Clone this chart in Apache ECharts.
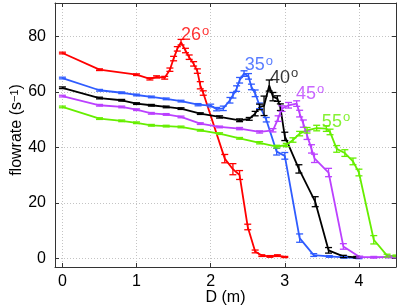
<!DOCTYPE html>
<html>
<head>
<meta charset="utf-8">
<script src="https://cdn.jsdelivr.net/npm/echarts@6/dist/echarts.min.js"></script>
<style>html,body{margin:0;padding:0;background:#fff;}#c{width:399px;height:308px;}</style>
</head>
<body>
<div id="c"></div>
<script>
// ---- data ----
const tickX = [0, 1, 2, 3, 4];
const tickY = [0, 20, 40, 60, 80];

const d26 = [0, 0.5, 1.0, 1.18, 1.27, 1.38, 1.45, 1.5, 1.55, 1.6, 1.66, 1.71, 1.77, 1.82, 1.86, 1.9, 2.19, 2.3, 2.39, 2.5, 2.6, 2.69, 2.8, 2.9, 3.0];
const f26 = [74, 68, 66.2, 64.7, 65.4, 65.1, 68, 72, 75.5, 77.9, 74.9, 72.5, 70.1, 67.5, 62.4, 59.6, 36, 32.2, 30.1, 11.4, 2.6, 1.1, 0.8, 1.1, 0.6];
const e26 = [0.3, 0.3, 0.3, 0.4, 0.4, 0.5, 0.6, 0.8, 0.8, 1, 0.8, 0.8, 0.8, 0.8, 1.3, 0.8, 1.5, 2, 1.6, 1, 0.5, 0.3, 0.3, 0.3, 0.2];

const d35 = [0, 0.5, 0.8, 1.0, 1.2, 1.4, 1.6, 1.83, 2.0, 2.08, 2.17, 2.26, 2.3, 2.35, 2.39, 2.45, 2.51, 2.55, 2.6, 2.66, 2.75, 2.89, 3.0, 3.2, 3.39, 3.6, 3.8, 4.0];
const f35 = [65, 60.6, 59.7, 58.9, 58.2, 57.5, 56.7, 55.4, 55.1, 53.8, 54.1, 57, 58.8, 61.2, 64.2, 66.6, 65.6, 61.8, 59.5, 55, 50, 38.5, 37, 7.4, 1.3, 0.8, 0.5, 0.2];
const e35 = [0.3, 0.3, 0.3, 0.3, 0.3, 0.3, 0.3, 0.4, 0.5, 0.6, 0.8, 1, 1, 1, 1, 1, 1, 1, 1.2, 1, 0.8, 1.2, 1.2, 1.5, 0.5, 0.3, 0.3, 0.2];

const d40 = [0, 0.5, 0.8, 1.0, 1.2, 1.4, 1.6, 1.86, 2.12, 2.39, 2.52, 2.6, 2.66, 2.72, 2.79, 2.84, 2.9, 2.94, 3.0, 3.19, 3.41, 3.59, 3.79, 3.97];
const f40 = [61.5, 57.8, 57, 55.8, 55.2, 54.6, 54, 52.2, 51, 49.8, 50.3, 52.2, 54.6, 55, 62.3, 58.3, 57.6, 54.5, 44, 32.3, 20.5, 3, 0.8, 0.5];
const e40 = [0.3, 0.3, 0.3, 0.3, 0.3, 0.3, 0.3, 0.3, 0.4, 0.5, 0.5, 0.8, 1, 3.5, 2, 1.5, 1, 1.2, 1.5, 1.5, 1.8, 1, 0.4, 0.3];

const d45 = [0, 0.5, 0.8, 1.0, 1.2, 1.4, 1.6, 1.86, 2.12, 2.39, 2.66, 2.84, 2.91, 2.96, 3.05, 3.16, 3.2, 3.25, 3.3, 3.36, 3.4, 3.59, 3.79, 4.01, 4.2, 4.4, 4.5];
const f45 = [58.5, 55.2, 54.6, 53.6, 52.3, 51.9, 51, 48.6, 47.4, 46.8, 45.6, 46.2, 50.4, 54, 55.2, 55.8, 52.2, 48.6, 44.4, 39.5, 36.1, 31, 4.4, 0.6, 0.5, 0.6, 0.6];
const e45 = [0.3, 0.3, 0.3, 0.3, 0.3, 0.3, 0.3, 0.3, 0.3, 0.4, 0.4, 0.6, 1, 1, 1, 1, 1.2, 1.3, 1.5, 1.5, 1.5, 1.5, 1, 0.3, 0.3, 0.3, 0.3];

const d55 = [0, 0.5, 0.8, 1.0, 1.2, 1.4, 1.6, 1.86, 2.12, 2.39, 2.66, 2.89, 3.02, 3.11, 3.2, 3.3, 3.43, 3.56, 3.61, 3.7, 3.81, 3.92, 4.0, 4.2, 4.38, 4.5];
const f55 = [54.6, 50.4, 49.6, 48.9, 48, 47.7, 47.4, 46.2, 45, 43.3, 41.7, 40.3, 40.9, 42.7, 45, 46.2, 47, 46.8, 45.6, 39.5, 38, 35, 31, 6.8, 1.1, 1];
const e55 = [0.3, 0.3, 0.3, 0.3, 0.3, 0.3, 0.3, 0.3, 0.3, 0.3, 0.4, 0.5, 0.6, 0.8, 0.8, 1, 1, 1, 1, 1.2, 1.2, 1.2, 1.2, 1.5, 0.5, 0.3];

const angleNames = ['26', '35', '40', '45', '55'];
const labelD = [1.6, 2.46, 2.8, 3.15, 3.5];
const labelF = [80.3, 69.5, 65, 59.3, 49.2];

const colors = ['#ff0000', '#2f5cff', '#000000', '#bb40ff', '#66ee00'];
const groups = [[d26, f26, e26], [d35, f35, e35], [d40, f40, e40], [d45, f45, e45], [d55, f55, e55]];

// ---- chart ----
const chart = echarts.init(document.getElementById('c'), null, {renderer: 'canvas'});
const font = 'Liberation Sans, Arial, Helvetica, sans-serif';
const axisColor = '#333';

function errRenderer(color) {
  return function (params, api) {
    const x = api.value(0), y = api.value(1), e = api.value(2);
    const hi = api.coord([x, y + e]);
    const lo = api.coord([x, y - e]);
    const w = 3.5;
    const style = {stroke: color, lineWidth: 1.3};
    return {
      type: 'group',
      children: [
        {type: 'line', shape: {x1: hi[0], y1: hi[1], x2: lo[0], y2: lo[1]}, style: style},
        {type: 'line', shape: {x1: hi[0] - w, y1: hi[1], x2: hi[0] + w, y2: hi[1]}, style: style},
        {type: 'line', shape: {x1: lo[0] - w, y1: lo[1], x2: lo[0] + w, y2: lo[1]}, style: style}
      ]
    };
  };
}

const series = [];
groups.forEach(function (g, i) {
  const pts = g[0].map(function (d, k) { return [d, g[1][k]]; });
  const errs = g[0].map(function (d, k) { return [d, g[1][k], g[2][k]]; });
  series.push({
    type: 'line', data: pts, symbol: 'none', smooth: false,
    lineStyle: {color: colors[i], width: 1.8}, z: 3, clip: true, animation: false
  });
  series.push({
    type: 'custom', data: errs, renderItem: errRenderer(colors[i]), z: 4, clip: true, animation: false,
    encode: {x: 0, y: 1}
  });
});

series.push({
  type: 'scatter', symbolSize: 0, z: 6, animation: false,
  data: angleNames.map(function (n, i) { return {value: [labelD[i], labelF[i]], name: n, itemStyle: {color: colors[i]}}; }),
  label: {
    show: true, position: 'inside', align: 'left', verticalAlign: 'middle',
    formatter: function (p) { return '{n' + p.dataIndex + '|' + p.name + '}{s' + p.dataIndex + '|o}'; },
    rich: (function () {
      const r = {};
      colors.forEach(function (c, i) {
        r['n' + i] = {fontSize: 18, fontFamily: font, color: c, lineHeight: 22};
        r['s' + i] = {fontSize: 13, fontFamily: font, color: c, verticalAlign: 'top', lineHeight: 12, padding: [0, 0, 0, 1]};
      });
      return r;
    })()
  }
});

const option = {
  backgroundColor: '#fff',
  animation: false,
  grid: {left: 55, right: 3, top: 3, bottom: 41, containLabel: false, outerBoundsMode: 'none'},
  xAxis: [{
    type: 'value', min: -0.1, max: 4.5, position: 'bottom',
    name: 'D (m)', nameLocation: 'middle', nameGap: 23, nameMoveOverlap: false,
    nameTextStyle: {fontSize: 16, fontFamily: font, color: '#000'},
    axisLine: {show: true, onZero: false, lineStyle: {color: axisColor, width: 1}},
    axisTick: {show: true, inside: true, length: 4, customValues: tickX, lineStyle: {color: axisColor}},
    axisLabel: {show: true, customValues: tickX, margin: 7, fontSize: 16, fontFamily: font, color: '#000'},
    splitLine: {show: true, customValues: tickX, lineStyle: {color: '#c4c4c4', type: [1, 2], width: 1}}
  }, {
    type: 'value', min: -0.1, max: 4.5, position: 'top',
    axisLine: {show: true, onZero: false, lineStyle: {color: axisColor, width: 1}},
    axisTick: {show: true, inside: true, length: 4, customValues: tickX, lineStyle: {color: axisColor}},
    axisLabel: {show: false}, splitLine: {show: false}
  }],
  yAxis: [{
    type: 'value', min: -3, max: 92, position: 'left',
    name: 'flowrate (s{sup|\u22121})', nameLocation: 'middle', nameGap: 30, nameMoveOverlap: false,
    nameTextStyle: {fontSize: 16, fontFamily: font, color: '#000', padding: [0, 0, 0, 10], rich: {sup: {fontSize: 11, fontFamily: font, verticalAlign: 'top', color: '#000'}}},
    axisLine: {show: true, onZero: false, lineStyle: {color: axisColor, width: 1}},
    axisTick: {show: true, inside: true, length: 4, customValues: tickY, lineStyle: {color: axisColor}},
    axisLabel: {show: true, customValues: tickY, margin: 9, fontSize: 16, fontFamily: font, color: '#000'},
    splitLine: {show: true, customValues: tickY, lineStyle: {color: '#c4c4c4', type: [1, 2], width: 1}}
  }, {
    type: 'value', min: -3, max: 92, position: 'right',
    axisLine: {show: true, onZero: false, lineStyle: {color: axisColor, width: 1}},
    axisTick: {show: true, inside: true, length: 4, customValues: tickY, lineStyle: {color: axisColor}},
    axisLabel: {show: false}, splitLine: {show: false}
  }],
  series: series
};
chart.setOption(option);
</script>
</body>
</html>
